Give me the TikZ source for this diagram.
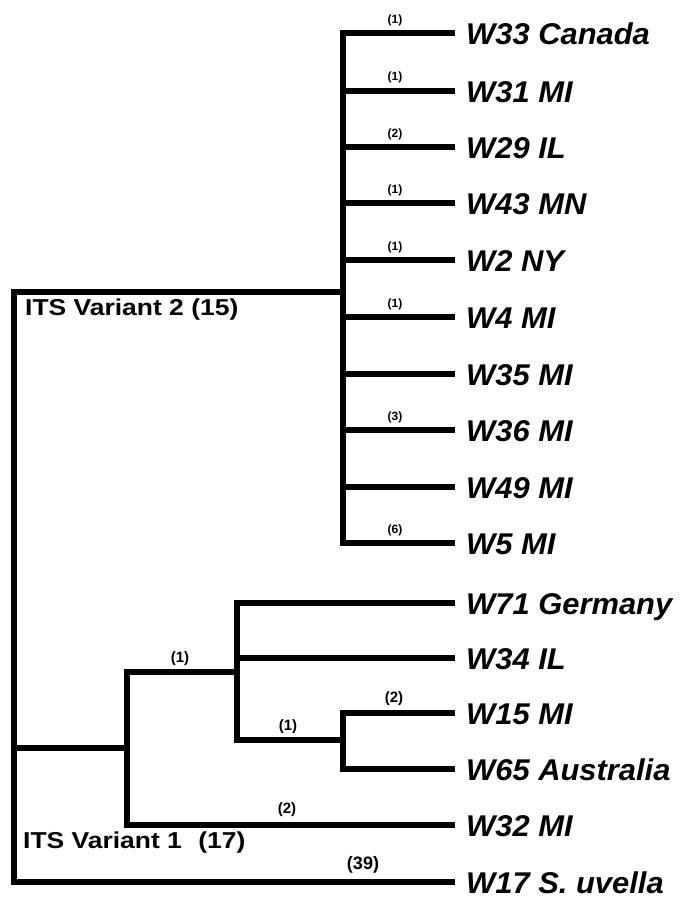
\documentclass[tikz,border=0pt]{standalone}
\usepackage{fontspec}
\setmainfont{Liberation Sans}
\newfontfamily\itsfont{Liberation Sans}[FakeStretch=1.15]
\newfontfamily\leaffont{Liberation Sans}[FakeStretch=1.03]
\begin{document}
\begin{tikzpicture}[x=1pt,y=-1pt,
  br/.style={line width=5.5pt, line join=miter},
  leaf/.style={font=\leaffont\fontsize{30}{30}\selectfont\bfseries\itshape, anchor=base west, inner sep=0pt},
  lbls/.style={font=\fontsize{12}{12}\selectfont\bfseries, inner sep=0pt},
  lblm/.style={font=\fontsize{15}{15}\selectfont\bfseries, inner sep=0pt},
  lbll/.style={font=\fontsize{18}{18}\selectfont\bfseries, inner sep=0pt},
  its/.style={font=\itsfont\fontsize{23}{23}\selectfont\bfseries, anchor=west, inner sep=0pt}]
\useasboundingbox (0,0) rectangle (683,900);
% internal nodes
\coordinate (root) at (14,748);
\coordinate (v2) at (343,292);
\coordinate (v1) at (127,748);
\coordinate (a) at (237,672);
\coordinate (b) at (343,740);
% leaves
\foreach \n/\y/\t in {w33/33/W33 Canada, w31/91/W31 MI, w29/147/W29 IL, w43/203/W43 MN,
  w2/260/W2 NY, w4/317/W4 MI, w35/374/W35 MI, w36/430/W36 MI, w49/487/W49 MI, w5/543/W5 MI,
  w71/603/W71 Germany, w34/658/W34 IL, w15/713/W15 MI, w65/769/W65 Australia,
  w32/825/W32 MI, w17/882/W17 S. uvella}{
  \coordinate (\n e) at (455,\y);
  \node[leaf] (\n) at (466,\y+11) {\t};
}
% top clade
\foreach \n in {w33,w31,w29,w43,w2,w4,w35,w36,w49,w5}{
  \draw[br] (\n e) -| (v2);
}
% root
\draw[br] (v2) -| (root);
\draw[br] (root) |- (w17e);
\draw[br] (root) -- (v1);
% lower clade
\draw[br] (a) -| (v1);
\draw[br] (w32e) -| (v1);
\draw[br] (w71e) -| (a);
\draw[br] (w34e) -| (a);
\draw[br] (b) -| (a);
\draw[br] (w15e) -| (b);
\draw[br] (w65e) -| (b);
% branch labels top clade
\node[lbls] (l33) at (395,33-13) {(1)};
\node[lbls] (l31) at (395,91-14) {(1)};
\node[lbls] (l29) at (395,147-13) {(2)};
\node[lbls] (l43) at (395,203-13) {(1)};
\node[lbls] (l2) at (395,260-13) {(1)};
\node[lbls] (l4) at (395,317-13) {(1)};
\node[lbls] (l36) at (395,430-13) {(3)};
\node[lbls] (l5) at (395,543-13) {(6)};
% lower labels
\node[lblm] (la) at (180,659) {(1)};
\node[lblm] (lb) at (288,727) {(1)};
\node[lblm] (l15) at (394,699) {(2)};
\node[lblm] (l32) at (287,810) {(2)};
\node[lbll] (l17) at (363,865) {(39)};
% group labels
\node[its] (its2) at (25,310) {ITS Variant 2 (15)};
\node[its] (its1) at (23,843) {ITS Variant 1\hspace{9pt} (17)};
\end{tikzpicture}
\end{document}
